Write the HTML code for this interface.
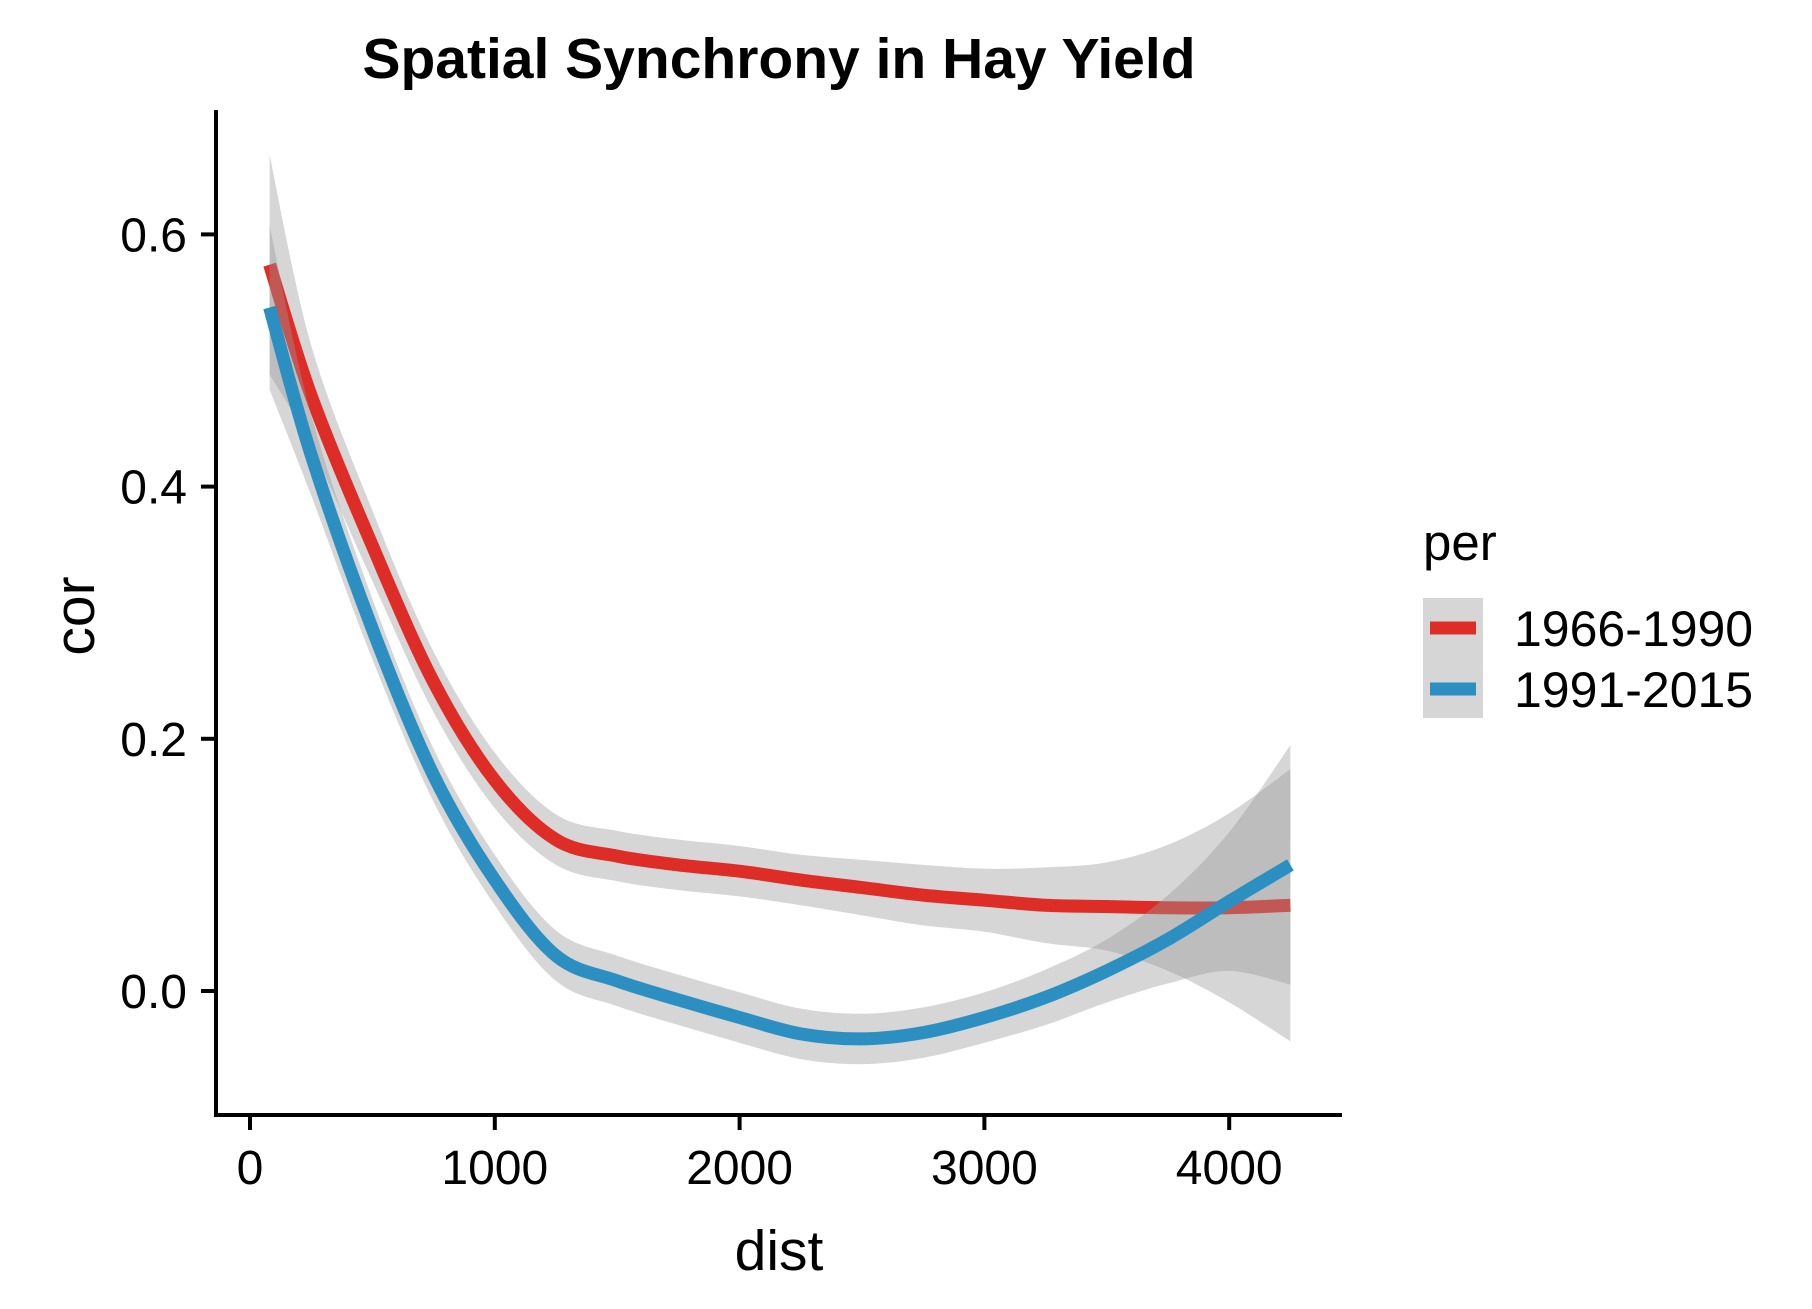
<!DOCTYPE html>
<html><head><meta charset="utf-8"><style>
html,body{margin:0;padding:0;background:#fff;}
svg{display:block;font-family:"Liberation Sans",Arial,sans-serif;}
</style></head><body>
<svg id="chart" width="1812" height="1309" viewBox="0 0 1812 1309" xmlns="http://www.w3.org/2000/svg">
<rect width="1812" height="1309" fill="#fff"/>
<text x="779" y="78" text-anchor="middle" font-size="57" font-weight="bold">Spatial Synchrony in Hay Yield</text>
<g id="bands"></g>
<g id="axes"></g>
<text x="779" y="1270" text-anchor="middle" font-size="57">dist</text>
<text transform="translate(94,616) rotate(-90)" text-anchor="middle" font-size="57">cor</text>
<g>
<text x="1423" y="560" font-size="51">per</text>
<rect x="1423" y="598" width="60" height="120" fill="#d6d6d6"/>
<line x1="1430" y1="628" x2="1476" y2="628" stroke="#DE2D26" stroke-width="13"/>
<line x1="1430" y1="689" x2="1476" y2="689" stroke="#2C8FC1" stroke-width="13"/>
<text x="1514" y="646" font-size="50">1966-1990</text>
<text x="1514" y="707" font-size="50">1991-2015</text>
</g>
</svg>
<script>
const dist = [80, 250, 500, 750, 1000, 1250, 1500, 1750, 2000, 2250, 2500, 2750, 3000, 3250, 3500, 3750, 4000, 4250];
const redCor = [0.576, 0.472, 0.353, 0.245, 0.167, 0.12, 0.107, 0.10, 0.095, 0.088, 0.082, 0.076, 0.072, 0.068, 0.067, 0.066, 0.066, 0.068];
const redSe = [0.087, 0.04, 0.028, 0.024, 0.022, 0.02, 0.02, 0.02, 0.02, 0.02, 0.022, 0.024, 0.025, 0.03, 0.035, 0.05, 0.075, 0.108];
const blueCor = [0.542, 0.425, 0.287, 0.171, 0.088, 0.028, 0.008, -0.007, -0.021, -0.034, -0.038, -0.033, -0.021, -0.005, 0.016, 0.041, 0.071, 0.10];
const blueSe = [0.065, 0.032, 0.024, 0.021, 0.02, 0.02, 0.02, 0.02, 0.02, 0.02, 0.02, 0.02, 0.02, 0.022, 0.025, 0.035, 0.055, 0.095];
const xTicks = [0, 1000, 2000, 3000, 4000];
const yTicks = [0.0, 0.2, 0.4, 0.6];
const yTickLabels = ["0.0", "0.2", "0.4", "0.6"];

const NS = "http://www.w3.org/2000/svg";
const X = v => 250 + v * 0.2448;
const Y = v => 991 - v * 1261;

function smoothPath(xs, ys) {
  const p = xs.map((x, i) => [X(x), Y(ys[i])]);
  let d = "M" + p[0][0] + "," + p[0][1];
  for (let i = 0; i < p.length - 1; i++) {
    const p0 = p[Math.max(0, i - 1)], p1 = p[i], p2 = p[i + 1], p3 = p[Math.min(p.length - 1, i + 2)];
    const c1 = [p1[0] + (p2[0] - p0[0]) / 6, p1[1] + (p2[1] - p0[1]) / 6];
    const c2 = [p2[0] - (p3[0] - p1[0]) / 6, p2[1] - (p3[1] - p1[1]) / 6];
    d += " C" + c1 + " " + c2 + " " + p2;
  }
  return d;
}
function bandPath(xs, c, s) {
  const up = c.map((v, i) => v + s[i]);
  const lo = c.map((v, i) => v - s[i]);
  const upD = smoothPath(xs, up);
  const rx = xs.slice().reverse(), rl = lo.slice().reverse();
  const loD = smoothPath(rx, rl).replace(/^M/, " L");
  return upD + loD + " Z";
}
const g = document.getElementById("bands");
function series(cor, se, color, name) {
  const b = document.createElementNS(NS, "path");
  b.setAttribute("d", bandPath(dist, cor, se));
  b.setAttribute("fill", "#999");
  b.setAttribute("fill-opacity", "0.4");
  
  
  g.appendChild(b);
  const l = document.createElementNS(NS, "path");
  l.setAttribute("d", smoothPath(dist, cor));
  l.setAttribute("fill", "none");
  l.setAttribute("stroke", color);
  l.setAttribute("stroke-width", "13");
  
  
  g.appendChild(l);
}
series(redCor, redSe, "#DE2D26", "1966-1990");
series(blueCor, blueSe, "#2C8FC1", "1991-2015");

const a = document.getElementById("axes");
function el(tag, attrs, name) {
  const e = document.createElementNS(NS, tag);
  for (const k in attrs) e.setAttribute(k, attrs[k]);
  
  
  a.appendChild(e);
  return e;
}
el("line", {x1: 216, y1: 110, x2: 216, y2: 1117, stroke: "#000", "stroke-width": 4}, "y-axis-line");
el("line", {x1: 214, y1: 1115, x2: 1342, y2: 1115, stroke: "#000", "stroke-width": 4}, "x-axis-line");
xTicks.forEach(t => {
  el("line", {x1: X(t), y1: 1115, x2: X(t), y2: 1130, stroke: "#000", "stroke-width": 4}, "x-tick");
  const tx = el("text", {x: X(t), y: 1184, "text-anchor": "middle", "font-size": 48}, "x-tick-label");
  tx.textContent = t;
});
yTicks.forEach((t, i) => {
  el("line", {x1: 201, y1: Y(t), x2: 216, y2: Y(t), stroke: "#000", "stroke-width": 4}, "y-tick");
  const tx = el("text", {x: 187, y: Y(t) + 17, "text-anchor": "end", "font-size": 48}, "y-tick-label");
  tx.textContent = yTickLabels[i];
});
</script>
</body></html>
